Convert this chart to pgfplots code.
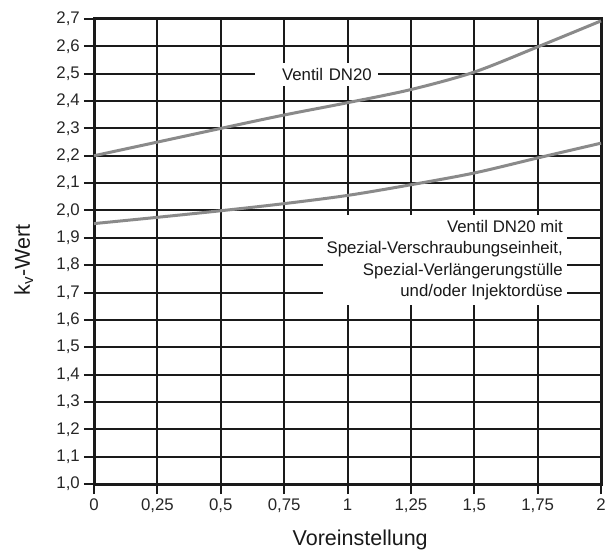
\documentclass[border=0pt]{standalone}
\usepackage{fontspec}
\setmainfont{Liberation Sans}
\usepackage{pgfplots}
\pgfplotsset{compat=1.18}
\definecolor{curve}{RGB}{138,138,138}
\definecolor{gridc}{RGB}{26,26,26}
\begin{document}
\begin{tikzpicture}
\begin{axis}[
  scale only axis,
  width=507pt, height=465pt,
  xmin=0, xmax=2, ymin=1.0, ymax=2.7,
  xtick={0,0.25,0.5,0.75,1,1.25,1.5,1.75,2},
  ytick={1.0,1.1,1.2,1.3,1.4,1.5,1.6,1.7,1.8,1.9,2.0,2.1,2.2,2.3,2.4,2.5,2.6,2.7},
  xticklabels={0,{0,25},{0,5},{0,75},1,{1,25},{1,5},{1,75},2},
  yticklabels={{1,0},{1,1},{1,2},{1,3},{1,4},{1,5},{1,6},{1,7},{1,8},{1,9},{2,0},{2,1},{2,2},{2,3},{2,4},{2,5},{2,6},{2,7}},
  tick align=outside,
  xtick pos=bottom, ytick pos=left,
  major tick length=10pt,
  major tick style={gridc, line width=2pt},
  grid=major,
  major grid style={gridc, line width=2pt},
  axis line style={gridc, line width=3pt},
  tick label style={font=\fontsize{16.8}{20}\selectfont, text=black!85},
  yticklabel style={inner xsep=4pt},
  xticklabel style={inner ysep=5pt},
  xlabel={Voreinstellung},
  ylabel={k\textsubscript{v}-Wert},
  label style={font=\fontsize{21.5}{24}\selectfont, text=black!90},
  xlabel style={at={(axis description cs:0.525,0)}, anchor=base, yshift=-61pt},
  ylabel style={at={([xshift=-64pt]axis description cs:0,0.482)}, anchor=base},
  clip=false,
]
\addplot[curve, line width=3pt, smooth] coordinates {
  (0,2.2) (0.25,2.25) (0.5,2.3) (0.75,2.349) (1,2.394) (1.25,2.442) (1.5,2.506) (1.75,2.598) (2,2.693)
};
\addplot[curve, line width=3pt, smooth] coordinates {
  (0,1.952) (0.25,1.975) (0.5,1.999) (0.75,2.025) (1,2.055) (1.25,2.094) (1.5,2.137) (1.75,2.192) (2,2.246)
};
\node[fill=white, anchor=east, text width=111pt, align=right, inner xsep=6pt, inner ysep=5pt,
      font=\fontsize{16.8}{20}\selectfont, text=black!90]
  at (axis cs:1.12,2.497) {Ventil DN20};
\node[fill=white, anchor=north east, align=right, inner xsep=4pt, inner ysep=5pt,
      font=\fontsize{16.8}{21.5}\selectfont, text=black!90]
  at (axis cs:1.866,1.983) {Ventil DN20 mit\\Spezial-Verschraubungseinheit,\\Spezial-Verlängerungstülle\\und/oder Injektordüse};
\coordinate (ll) at (rel axis cs:0,0);
\coordinate (ur) at (rel axis cs:1,1);
\end{axis}
\pgfresetboundingbox
\useasboundingbox ([shift={(-94pt,-67pt)}]ll) rectangle ([shift={(5pt,19pt)}]ur);
\end{tikzpicture}
\end{document}
